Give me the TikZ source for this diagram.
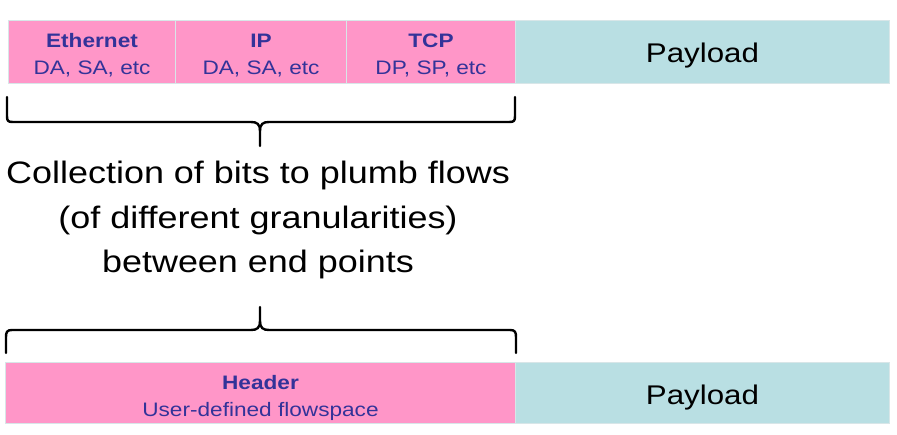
\documentclass[tikz,border=0pt]{standalone}
\usepackage{fontspec}
\setmainfont[FakeStretch=1.16]{Liberation Sans}
\definecolor{hpink}{HTML}{FF96C8}
\definecolor{pteal}{HTML}{B9DFE3}
\definecolor{tblue}{HTML}{333399}
\definecolor{cellline}{HTML}{D8E6E8}
\newcommand{\topstrut}[1]{\rule{0pt}{#1}}
\begin{document}
\begin{tikzpicture}[x=1pt,y=-1pt,
  cell/.style={draw=cellline,line width=1pt,inner sep=0pt,anchor=north west,align=center},
  hdr/.style={cell,fill=hpink,text=tblue,font=\fontsize{19.5}{27.5}\selectfont},
  pay/.style={cell,fill=pteal,text=black,font=\fontsize{27}{30}\selectfont},
  brace/.style={line width=2.4pt,line cap=round,line join=round},
  big/.style={font=\fontsize{31}{44.5}\selectfont,align=center}]
\useasboundingbox (0,0) rectangle (897,435);
% top row
\node[hdr,minimum width=167pt,minimum height=63pt] (eth) at (8,20) {\topstrut{21pt}\textbf{Ethernet}\\DA, SA, etc};
\node[hdr,minimum width=171pt,minimum height=63pt] (ip) at (175,20) {\topstrut{21pt}\textbf{IP}\\DA, SA, etc};
\node[hdr,minimum width=169pt,minimum height=63pt] (tcp) at (346,20) {\topstrut{21pt}\textbf{TCP}\\DP, SP, etc};
\node[pay,minimum width=374pt,minimum height=63pt] (pay1) at (515,20) {\topstrut{27pt}Payload};
% top brace
\draw[brace] (7,97) -- (7,116) .. controls (7,121) and (8,122) .. (13,122) -- (251,122)
  .. controls (257,122) and (260,124) .. (260,131) -- (260,146);
\draw[brace] (515,97) -- (515,116) .. controls (515,121) and (514,122) .. (509,122) -- (269,122)
  .. controls (263,122) and (260,124) .. (260,131);
% text
\node[big] (txt) at (258,220) {Collection of bits to plumb flows\\(of different granularities)\\between end points};
% bottom brace
\draw[brace] (6,353) -- (6,337) .. controls (6,332) and (7,330) .. (12,330) -- (251,330)
  .. controls (257,330) and (260,328) .. (260,321) -- (260,307);
\draw[brace] (516,353) -- (516,337) .. controls (516,332) and (515,330) .. (510,330) -- (269,330)
  .. controls (263,330) and (260,328) .. (260,321);
% bottom row
\node[hdr,minimum width=510pt,minimum height=61pt] (hd) at (5,362) {\topstrut{24.5pt}\textbf{Header}\\User-defined flowspace};
\node[pay,minimum width=374pt,minimum height=61pt] (pay2) at (515,362) {\topstrut{29pt}Payload};
\end{tikzpicture}
\end{document}
